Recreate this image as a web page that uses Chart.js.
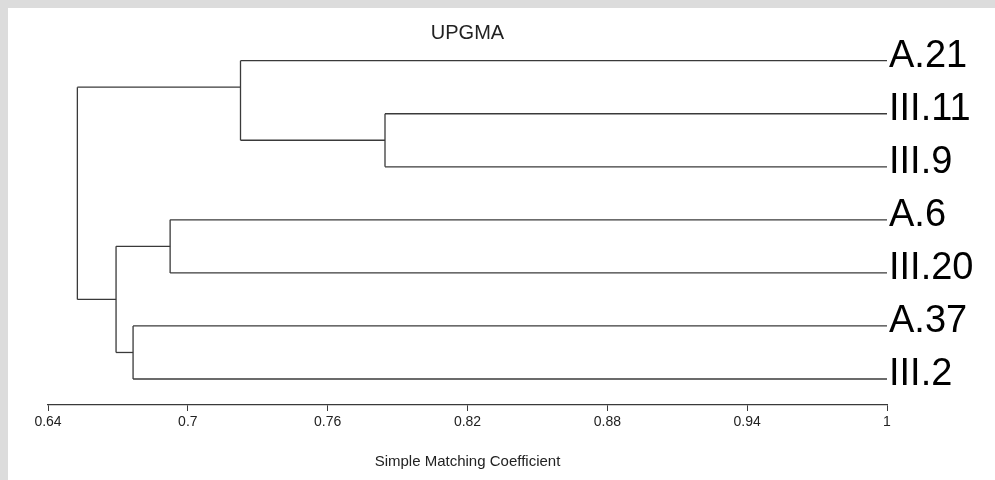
<!DOCTYPE html>
<html>
<head>
<meta charset="utf-8">
<script src="https://cdn.jsdelivr.net/npm/chart.js@4.4.1/dist/chart.umd.min.js"></script>
<style>
    html, body { margin: 0; padding: 0; background: #dcdcdc; }
    #wrap { position: absolute; left: 8px; top: 8px; width: 987px; height: 472px; background: #fff; }
</style>
</head>
<body>
<div id="wrap"><canvas id="tree" width="987" height="472"></canvas></div>
<script>
    // leaves, top to bottom
    const leaves = ['A.21', 'III.11', 'III.9', 'A.6', 'III.20', 'A.37', 'III.2'];
    // merges in order; ids >= leaves.length refer to earlier merges
    const mergeLeft = [1, 0, 3, 5, 9, 8];
    const mergeRight = [2, 7, 4, 6, 10, 11];
    const mergeLevel = [0.7846, 0.7226, 0.6924, 0.6765, 0.6692, 0.6526];
    const tickValues = [0.64, 0.7, 0.76, 0.82, 0.88, 0.94, 1];

    const FONT = '"Liberation Sans", Arial, sans-serif';
    const LINE = '#3a3a3a';

    const n = leaves.length;
    const first = [], last = [], linkY = [], height = [];
    for (let i = 0; i < n; i++) {
        first[i] = i; last[i] = i; linkY[i] = i; height[i] = 1;
    }
    mergeLeft.forEach((l, k) => {
        const r = mergeRight[k];
        const id = n + k;
        first[id] = first[l];
        last[id] = last[r];
        linkY[id] = (last[l] + first[r]) / 2;
        height[id] = mergeLevel[k];
    });

    // one dataset per line segment
    const datasets = [];
    function seg(x1, y1, x2, y2) {
        datasets.push({
            data: [{x: x1, y: y1}, {x: x2, y: y2}],
            showLine: true,
            borderColor: LINE,
            borderWidth: 1.3,
            pointRadius: 0,
            fill: false
        });
    }
    mergeLeft.forEach((l, k) => {
        const r = mergeRight[k];
        const h = mergeLevel[k];
        seg(h, linkY[l], h, linkY[r]);
        [l, r].forEach(c => seg(h, linkY[c], height[c], linkY[c]));
    });

    new Chart(document.getElementById('tree'), {
        type: 'scatter',
        data: { datasets: datasets },
        options: {
            responsive: false,
            animation: false,
            layout: { padding: { left: 40, right: 0, top: 0, bottom: 0 } },
            plugins: {
                legend: { display: false },
                tooltip: { enabled: false }
            },
            scales: {
                x: {
                    type: 'linear',
                    min: 0.64,
                    max: 1,
                    afterBuildTicks: scale => { scale.ticks = tickValues.map(v => ({ value: v })); },
                    afterFit: scale => { scale.height = 75; },
                    grid: { drawOnChartArea: false, drawTicks: true, tickLength: 6, color: LINE },
                    border: { display: true, color: LINE, width: 1.3 },
                    ticks: {
                        color: '#222',
                        font: { family: FONT, size: 14 },
                        padding: 3,
                        maxRotation: 0,
                        autoSkip: false,
                        callback: v => String(+v.toFixed(2))
                    },
                    title: {
                        display: true,
                        text: 'Simple Matching Coefficient',
                        color: '#222',
                        font: { family: FONT, size: 15 },
                        padding: { top: 0, bottom: 9 }
                    }
                },
                // top axis only carries the heading, centred over the plot
                x2: {
                    type: 'linear',
                    position: 'top',
                    min: 0.64,
                    max: 1,
                    afterFit: scale => { scale.height = 41; },
                    grid: { display: false },
                    border: { display: false },
                    ticks: { display: false },
                    title: {
                        display: true,
                        text: 'UPGMA',
                        color: '#222',
                        font: { family: FONT, size: 20 },
                        padding: { top: 13, bottom: 0 }
                    }
                },
                y: {
                    type: 'linear',
                    position: 'right',
                    reverse: true,
                    min: -0.22,
                    max: 6.49,
                    afterBuildTicks: scale => { scale.ticks = leaves.map((_, i) => ({ value: i })); },
                    afterFit: scale => { scale.width = 108; },
                    grid: { display: false, drawTicks: false },
                    border: { display: false },
                    ticks: {
                        color: '#000',
                        font: { family: FONT, size: 38 },
                        padding: 2,
                        labelOffset: -4,
                        autoSkip: false,
                        callback: v => leaves[v]
                    }
                }
            }
        }
    });
</script>
</body>
</html>
